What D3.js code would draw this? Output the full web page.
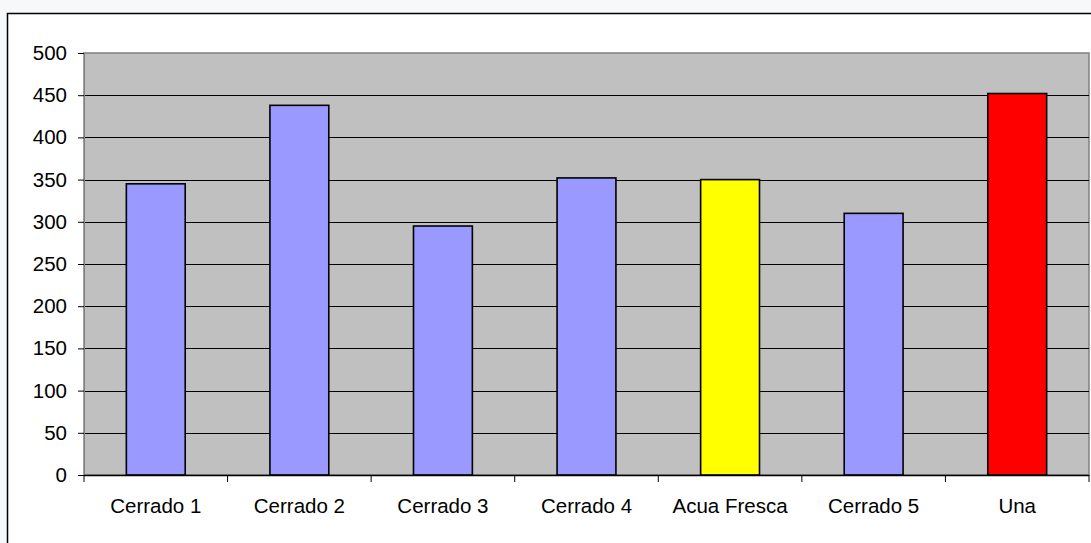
<!DOCTYPE html>
<html lang="es">
<head>
  <meta charset="UTF-8">
  <title>Cerrados</title>
  <script src="https://d3js.org/d3.v7.min.js"></script>
  <style>
    html, body {
      margin: 0;
      padding: 0;
      background: #f7f8fa;
      overflow: hidden;
    }
    svg {
      display: block;
    }
    .tick text {
      font-family: 'Liberation Sans', Arial, sans-serif;
      font-size: 20.5px;
      fill: #000;
    }
  </style>
</head>
<body>
  <svg id="chart"></svg>

  <script>
    // データ
    const categories = ["Cerrado 1", "Cerrado 2", "Cerrado 3", "Cerrado 4", "Acua Fresca", "Cerrado 5", "Una"];
    const values = [345, 438, 295, 352, 350, 310, 452];
    const barColors = ["#9999ff", "#9999ff", "#9999ff", "#9999ff", "#ffff00", "#9999ff", "#ff0000"];
    const yTicks = [0, 50, 100, 150, 200, 250, 300, 350, 400, 450, 500];

    const W = 1091, H = 543;
    const plot = { left: 84, top: 53, right: 1089, bottom: 475 };

    const svg = d3.select("#chart")
      .attr("width", W)
      .attr("height", H);

    // chart frame (white, black border, runs off the right/bottom edge)
    svg.append("rect")
      .attr("x", 7.5)
      .attr("y", 13.5)
      .attr("width", W + 20)
      .attr("height", H + 20)
      .attr("fill", "#fff")
      .attr("stroke", "#000")
      .attr("stroke-width", 1.5);

    const x = d3.scaleBand()
      .domain(categories)
      .range([plot.left, plot.right])
      .paddingInner(0.59)
      .paddingOuter(0.295);

    const y = d3.scaleLinear()
      .domain([0, 500])
      .range([plot.bottom, plot.top]);

    // plot area
    svg.append("rect")
      .attr("x", plot.left)
      .attr("y", plot.top)
      .attr("width", plot.right - plot.left)
      .attr("height", plot.bottom - plot.top)
      .attr("fill", "#c0c0c0")
      .attr("stroke", "#808080")
      .attr("stroke-width", 1.5);

    // gridlines
    svg.append("g")
      .selectAll("line")
      .data(yTicks.filter(d => d > 0 && d < 500))
      .join("line")
      .attr("x1", plot.left)
      .attr("x2", plot.right)
      .attr("y1", d => Math.round(y(d)) + 0.5)
      .attr("y2", d => Math.round(y(d)) + 0.5)
      .attr("stroke", "#000")
      .attr("stroke-width", 1);

    // bars
    svg.append("g")
      .selectAll("rect")
      .data(values)
      .join("rect")
      .attr("x", (d, i) => x(categories[i]))
      .attr("y", d => y(d))
      .attr("width", x.bandwidth())
      .attr("height", d => y(0) - y(d))
      .attr("fill", (d, i) => barColors[i])
      .attr("stroke", "#000")
      .attr("stroke-width", 1.6);

    // y axis
    const yAxis = d3.axisLeft(y)
      .tickValues(yTicks)
      .tickSize(6)
      .tickPadding(11);
    const gy = svg.append("g")
      .attr("transform", `translate(${plot.left},0)`)
      .call(yAxis);
    gy.select(".domain").attr("stroke", "#808080");
    gy.selectAll(".tick line").attr("stroke", "#000");

    // x axis: ticks at category boundaries
    const boundaries = d3.range(categories.length + 1).map(i => plot.left + i * x.step());
    const gx = svg.append("g");
    gx.append("line")
      .attr("x1", plot.left)
      .attr("x2", plot.right)
      .attr("y1", plot.bottom + 0.5)
      .attr("y2", plot.bottom + 0.5)
      .attr("stroke", "#000")
      .attr("stroke-width", 1.5);
    gx.selectAll("line.tk")
      .data(boundaries)
      .join("line")
      .attr("class", "tk")
      .attr("x1", d => d)
      .attr("x2", d => d)
      .attr("y1", plot.bottom)
      .attr("y2", plot.bottom + 7)
      .attr("stroke", "#000");

    const xAxis = d3.axisBottom(x).tickSize(0).tickPadding(23);
    const gxl = svg.append("g")
      .attr("transform", `translate(0,${plot.bottom})`)
      .call(xAxis);
    gxl.select(".domain").remove();
  </script>
</body>
</html>
